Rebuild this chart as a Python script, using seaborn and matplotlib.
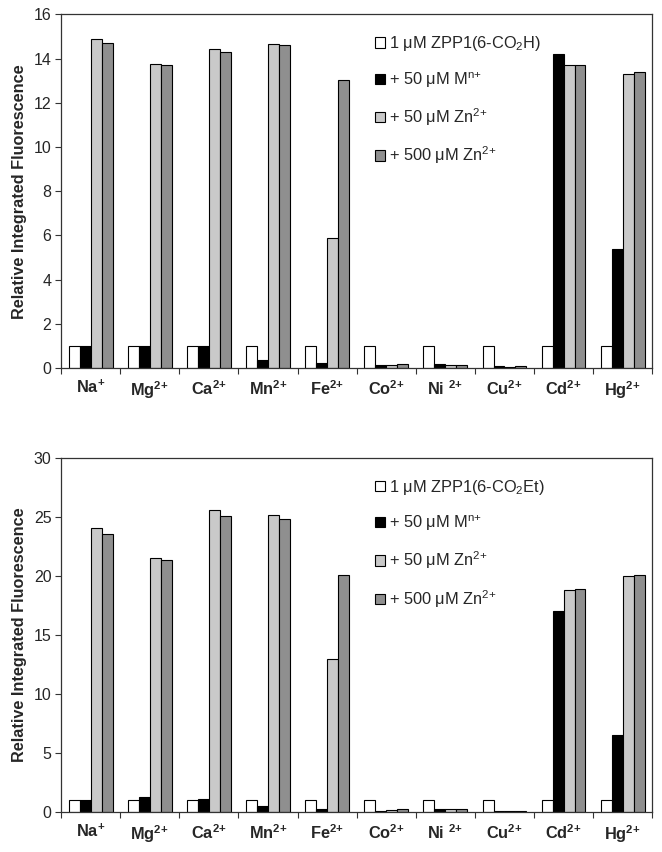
import numpy as np
import pandas as pd
import seaborn as sns
import matplotlib.pyplot as plt
from matplotlib.ticker import FixedLocator

sns.set_style('ticks')
plt.rcParams['font.family'] = ['Liberation Sans', 'DejaVu Sans']
plt.rcParams['mathtext.fontset'] = 'custom'
plt.rcParams['mathtext.rm'] = 'Liberation Sans'
plt.rcParams['mathtext.it'] = 'Liberation Sans:italic'
plt.rcParams['mathtext.bf'] = 'Liberation Sans:bold'

# ---- dados ----
ions = ['Na', 'Mg', 'Ca', 'Mn', 'Fe', 'Co', 'Ni', 'Cu', 'Cd', 'Hg']
ion_labels = [r'Na$^{\mathbf{+}}$', r'Mg$^{\mathbf{2\!+}}$', r'Ca$^{\mathbf{2\!+}}$', r'Mn$^{\mathbf{2\!+}}$',
              r'Fe$^{\mathbf{2\!+}}$', r'Co$^{\mathbf{2\!+}}$', r'Ni $^{\mathbf{2\!+}}$', r'Cu$^{\mathbf{2\!+}}$',
              r'Cd$^{\mathbf{2\!+}}$', r'Hg$^{\mathbf{2\!+}}$']

# painel de cima: ZPP1(6-CO2H)
h_sensor = [1, 1, 1, 1, 1, 1, 1, 1, 1, 1]
h_metal = [1.0, 1.0, 1.02, 0.37, 0.23, 0.12, 0.17, 0.08, 14.2, 5.4]
h_zn50 = [14.88, 13.77, 14.41, 14.65, 5.87, 0.13, 0.12, 0.07, 13.72, 13.31]
h_zn500 = [14.70, 13.69, 14.31, 14.59, 13.01, 0.18, 0.12, 0.09, 13.69, 13.37]

# painel de baixo: ZPP1(6-CO2Et)
et_sensor = [1, 1, 1, 1, 1, 1, 1, 1, 1, 1]
et_metal = [1.0, 1.24, 1.07, 0.48, 0.2, 0.1, 0.25, 0.07, 17.03, 6.5]
et_zn50 = [24.01, 21.5, 25.54, 25.11, 12.94, 0.15, 0.2, 0.05, 18.76, 19.97]
et_zn500 = [23.5, 21.36, 25.08, 24.77, 20.06, 0.22, 0.22, 0.04, 18.87, 20.03]

conds_h = [r'1 μM ZPP1(6-CO$_2$H)', r'+ 50 μM M$^{\mathrm{n\!+}}$', r'+ 50 μM Zn$^{2\!+}$', r'+ 500 μM Zn$^{2\!+}$']
conds_et = [r'1 μM ZPP1(6-CO$_2$Et)', r'+ 50 μM M$^{\mathrm{n\!+}}$', r'+ 50 μM Zn$^{2\!+}$', r'+ 500 μM Zn$^{2\!+}$']
cores = ['#ffffff', '#000000', '#c9c9c9', '#8f8f8f']


def monta_df(series, conds):
    linhas = []
    for cond, vals in zip(conds, series):
        for ion, v in zip(ions, vals):
            linhas.append({'ion': ion, 'cond': cond, 'valor': v})
    return pd.DataFrame(linhas)


df_h = monta_df([h_sensor, h_metal, h_zn50, h_zn500], conds_h)
df_et = monta_df([et_sensor, et_metal, et_zn50, et_zn500], conds_et)

fig = plt.figure(figsize=(6.62, 8.52), dpi=100)
ax1 = fig.add_axes([0.0923, 0.568, 0.893, 0.4152])
ax2 = fig.add_axes([0.0923, 0.0473, 0.893, 0.4155])


def desenha(ax, df, conds, ymax, ystep):
    sns.barplot(data=df, x='ion', y='valor', hue='cond', hue_order=conds,
                palette=cores, width=0.74, edgecolor='black', linewidth=0.8,
                errorbar=None, ax=ax)
    ax.set_xlim(-0.5, len(ions) - 0.5)
    ax.set_ylim(0, ymax)
    ax.set_yticks(np.arange(0, ymax + 0.1, ystep))
    ax.tick_params(axis='y', labelsize=11.5, length=4, width=0.8, color='#333333', pad=3)
    ax.set_xticks(range(len(ions)))
    ax.set_xticklabels(ion_labels, fontsize=11.8, fontweight='bold')
    ax.tick_params(axis='x', which='major', length=0, pad=8)
    ax.xaxis.set_minor_locator(FixedLocator(np.arange(-0.5, len(ions), 1)))
    ax.tick_params(axis='x', which='minor', length=4, width=0.8, color='#333333')
    ax.set_xlabel('')
    ax.set_ylabel('Relative Integrated Fluorescence', fontsize=11.7, fontweight='bold', labelpad=5)
    for s in ax.spines.values():
        s.set_visible(True)
        s.set_color('#333333')
        s.set_linewidth(0.9)
    leg = ax.legend(loc='upper left', bbox_to_anchor=(0.52, 0.962), frameon=False,
                    fontsize=11.8, labelspacing=1.02, handlelength=0.6, handleheight=0.6,
                    handletextpad=0.25, borderaxespad=0)
    for p in leg.get_patches():
        p.set_edgecolor('black')
        p.set_linewidth(0.8)


desenha(ax1, df_h, conds_h, 16, 2)
desenha(ax2, df_et, conds_et, 30, 5)

plt.savefig('out.png', dpi=100)
